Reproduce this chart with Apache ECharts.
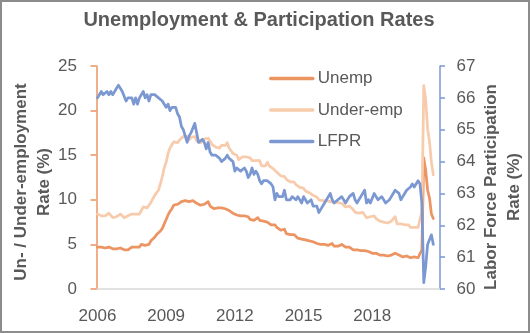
<!DOCTYPE html>
<html>
<head>
<meta charset="utf-8">
<script src="https://cdn.jsdelivr.net/npm/echarts@6/dist/echarts.min.js"></script>
<style>
html,body{margin:0;padding:0;background:#fff;}
#wrap{position:relative;width:530px;height:333px;}
#chart{position:absolute;left:0;top:0;width:530px;height:333px;}
#frame{position:absolute;left:0;top:0;width:530px;height:333px;box-sizing:border-box;border:2px solid #8c8c8c;pointer-events:none;}
</style>
</head>
<body>
<div id="wrap"><div id="chart"></div><div id="frame"></div></div>
<script>
// Monthly data, Jan 2006 .. Sep 2020
const startYear = 2006;
const axisYears = 15; // axis spans Jan 2006 .. Dec 2020
const unemp = [
4.7,4.8,4.7,4.7,4.6,4.6,4.7,4.7,4.5,4.4,4.5,4.4,
4.6,4.5,4.4,4.5,4.4,4.6,4.7,4.6,4.7,4.7,4.7,5.0,
5.0,4.9,5.1,5.0,5.4,5.6,5.8,6.1,6.1,6.5,6.8,7.3,
7.8,8.3,8.7,9.0,9.4,9.5,9.5,9.6,9.8,10.0,9.9,9.9,
9.8,9.8,9.9,9.9,9.6,9.4,9.4,9.5,9.5,9.4,9.8,9.3,
9.1,9.0,9.0,9.1,9.0,9.1,9.0,9.0,9.0,8.8,8.6,8.5,
8.3,8.3,8.2,8.2,8.2,8.2,8.2,8.1,7.8,7.8,7.7,7.9,
8.0,7.7,7.5,7.6,7.5,7.5,7.3,7.2,7.2,7.2,6.9,6.7,
6.6,6.7,6.7,6.2,6.3,6.1,6.2,6.1,5.9,5.7,5.8,5.6,
5.7,5.5,5.4,5.4,5.6,5.3,5.2,5.1,5.0,5.0,5.1,5.0,
4.8,4.9,5.0,5.1,4.8,4.9,4.8,4.9,5.0,4.9,4.7,4.7,
4.7,4.6,4.4,4.4,4.4,4.3,4.3,4.4,4.3,4.2,4.2,4.1,
4.0,4.1,4.0,4.0,3.8,4.0,3.8,3.8,3.7,3.8,3.8,3.9,
4.0,3.8,3.8,3.7,3.6,3.6,3.7,3.6,3.5,3.6,3.6,3.6,
3.5,3.5,4.4,14.7,13.3,11.1,10.2,8.4,7.9
];
const underEmp = [
8.4,8.4,8.2,8.1,8.2,8.4,8.5,8.4,8.0,8.2,8.1,7.9,
8.4,8.2,8.0,8.2,8.2,8.3,8.4,8.4,8.4,8.4,8.4,8.8,
9.2,9.0,9.1,9.2,9.7,10.1,10.5,10.8,11.1,11.8,12.6,13.6,
14.2,15.2,15.8,15.9,16.5,16.5,16.4,16.7,16.7,17.1,17.1,17.1,
16.7,17.0,17.1,17.1,16.6,16.4,16.4,16.5,16.8,16.6,16.9,16.6,
16.2,16.0,15.9,16.1,15.8,16.1,15.9,16.1,16.4,15.8,15.5,15.2,
15.2,15.0,14.5,14.6,14.8,14.8,14.8,14.6,14.7,14.4,14.4,14.4,
14.6,14.4,13.8,13.9,13.8,14.2,13.8,13.6,13.5,13.6,13.1,13.1,
12.7,12.6,12.6,12.3,12.1,12.0,12.2,12.0,11.7,11.5,11.4,11.3,
11.3,11.0,10.9,10.8,10.7,10.5,10.4,10.3,10.0,9.8,9.9,9.9,
9.9,9.7,9.8,9.7,9.7,9.6,9.7,9.6,9.6,9.4,9.2,9.1,
9.3,9.2,8.9,8.6,8.4,8.5,8.5,8.6,8.3,8.0,8.1,8.1,
8.2,8.2,7.9,7.8,7.6,7.8,7.5,7.4,7.4,7.5,7.6,7.6,
8.1,7.3,7.3,7.3,7.1,7.2,7.0,7.2,6.9,7.0,6.9,6.7,
6.9,7.0,8.7,22.8,21.2,18.0,16.5,14.2,12.8
];
const lfpr = [
66.0,66.1,66.2,66.1,66.1,66.2,66.1,66.2,66.1,66.2,66.3,66.4,
66.4,66.2,66.2,65.9,66.0,66.0,66.0,65.8,66.0,65.8,66.0,66.0,
66.2,66.0,66.1,65.9,66.1,66.1,66.1,66.1,66.0,66.0,65.9,65.8,
65.7,65.8,65.6,65.7,65.7,65.7,65.5,65.4,65.1,65.0,65.0,64.6,
64.8,64.9,64.9,65.2,64.9,64.6,64.6,64.7,64.6,64.4,64.6,64.3,
64.2,64.2,64.2,64.2,64.1,64.0,64.0,64.1,64.2,64.1,64.1,64.0,
63.7,63.8,63.8,63.7,63.7,63.8,63.7,63.5,63.6,63.8,63.6,63.7,
63.6,63.4,63.3,63.4,63.4,63.4,63.4,63.3,63.2,62.8,63.0,62.9,
62.9,62.9,63.1,62.8,62.8,62.8,62.9,62.9,62.8,62.9,62.9,62.7,
62.9,62.8,62.7,62.7,62.8,62.6,62.6,62.6,62.4,62.5,62.5,62.7,
62.7,62.9,63.0,62.8,62.7,62.7,62.8,62.8,62.9,62.8,62.7,62.7,
62.9,62.9,63.0,62.8,62.7,62.8,62.9,62.9,63.1,62.7,62.8,62.7,
62.7,63.0,62.9,62.8,62.8,62.9,62.9,62.7,62.7,62.8,62.9,63.0,
63.1,63.1,63.0,62.8,62.9,63.0,63.1,63.1,63.2,63.3,63.2,63.2,
63.4,63.3,62.7,60.2,60.7,61.4,61.4,61.7,61.4
];
const leftTicks = {min: 0, max: 25, interval: 5};
const rightTicks = {min: 60, max: 67, interval: 1};
const seriesNames = ['Unemp', 'Under-emp', 'LFPR'];
const titleText = 'Unemployment & Participation Rates';
const leftTitle = 'Un- / Under-employment\nRate (%)';
const rightTitle = 'Labor Force Participation\nRate (%)';

// categories: one per month
const months = [];
for (let y = 0; y < axisYears; y++) {
  for (let m = 1; m <= 12; m++) {
    months.push((startYear + y) + '-' + (m < 10 ? '0' + m : m));
  }
}

const cOr = '#EC9462';
const cPe = '#F7CBAC';
const cBl = '#7B98D2';
const txt = '#595959';
const font = '"Liberation Sans", Arial, sans-serif';

const chart = echarts.init(document.getElementById('chart'), null, {renderer: 'canvas'});
chart.setOption({
  animation: false,
  backgroundColor: '#fff',
  title: {
    text: titleText,
    left: 254, top: 5, textAlign: 'center',
    textStyle: {fontFamily: font, fontSize: 20, fontWeight: 'bold', color: txt}
  },
  legend: {
    orient: 'vertical',
    left: 269, top: 70, padding: 0,
    itemWidth: 42, itemHeight: 14, itemGap: 14.5,
    itemStyle: {opacity: 0},
    lineStyle: {width: 3.5},
    textStyle: {fontFamily: font, fontSize: 17, color: txt},
    data: seriesNames
  },
  grid: {left: 96.5, right: 90, top: 66, bottom: 44, containLabel: false},
  xAxis: {
    type: 'category',
    data: months,
    boundaryGap: true,
    axisLine: {lineStyle: {color: '#d9d9d9', width: 1.5}},
    axisTick: {interval: 11, length: 6, lineStyle: {color: '#d9d9d9', width: 1.5}},
    axisLabel: {
      interval: 35, margin: 19,
      fontFamily: font, fontSize: 17, color: txt,
      formatter: v => v.slice(0, 4)
    },
    splitLine: {show: false}
  },
  yAxis: [
    {
      type: 'value', position: 'left',
      min: leftTicks.min, max: leftTicks.max, interval: leftTicks.interval,
      axisLine: {show: true, lineStyle: {color: cOr, width: 1.5}},
      axisTick: {show: true, length: 6, lineStyle: {color: cOr, width: 1.5}},
      axisLabel: {margin: 19.5, fontFamily: font, fontSize: 17, color: txt},
      splitLine: {show: false}
    },
    {
      type: 'value', position: 'right',
      min: rightTicks.min, max: rightTicks.max, interval: rightTicks.interval,
      axisLine: {show: true, lineStyle: {color: cBl, width: 1.5}},
      axisTick: {show: true, length: 5, lineStyle: {color: cBl, width: 1.5}},
      axisLabel: {margin: 16.5, fontFamily: font, fontSize: 17, color: txt},
      splitLine: {show: false}
    }
  ],
  graphic: [
    {
      type: 'text', x: 33, y: 182, rotation: Math.PI / 2,
      style: {text: leftTitle, fontFamily: font, fontSize: 17, fontWeight: 'bold',
        fill: txt, align: 'center', verticalAlign: 'middle', lineHeight: 23}
    },
    {
      type: 'text', x: 502.5, y: 187, rotation: Math.PI / 2,
      style: {text: rightTitle, fontFamily: font, fontSize: 17, fontWeight: 'bold',
        fill: txt, align: 'center', verticalAlign: 'middle', lineHeight: 23}
    }
  ],
  series: [
    {name: seriesNames[0], type: 'line', yAxisIndex: 0, data: unemp, symbol: 'none',
      lineStyle: {color: cOr, width: 2.75, join: 'round', cap: 'round'}, itemStyle: {color: cOr}},
    {name: seriesNames[1], type: 'line', yAxisIndex: 0, data: underEmp, symbol: 'none',
      lineStyle: {color: cPe, width: 2.75, join: 'round', cap: 'round'}, itemStyle: {color: cPe}},
    {name: seriesNames[2], type: 'line', yAxisIndex: 1, data: lfpr, symbol: 'none',
      lineStyle: {color: cBl, width: 2.75, join: 'round', cap: 'round'}, itemStyle: {color: cBl}}
  ]
});
</script>
</body>
</html>
